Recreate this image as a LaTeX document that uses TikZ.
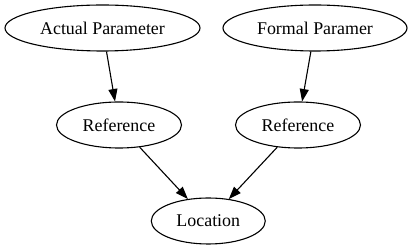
\documentclass[tikz,border=0pt]{standalone}
\usepackage{fontspec}
\setmainfont{Liberation Serif}
\usetikzlibrary{shapes.geometric,arrows.meta}
\begin{document}
\begin{tikzpicture}[x=1pt,y=1pt,
  vertex/.style={ellipse,draw,line width=1.1pt,inner sep=0pt,
    minimum height=46pt,font=\fontsize{17.9}{21}\selectfont},
  link/.style={line width=1.1pt,-{Triangle[length=12.5pt,width=9pt]}}]
\useasboundingbox (0,0) rectangle (413,251);
% upper row
\node[vertex,minimum width=195pt] (actual) at (102.5,223) {Actual Parameter};
\node[vertex,minimum width=184pt] (formal) at (315,223) {Formal Paramer};
% middle row
\node[vertex,minimum width=125pt] (refl) at (119,126) {Reference};
\node[vertex,minimum width=125pt] (refr) at (298,126) {Reference};
% bottom
\node[vertex,minimum width=114pt] (loc) at (208.3,30) {Location};
% edges
\draw[link] (actual) -- (refl);
\draw[link] (formal) -- (refr);
\draw[link] (refl) -- (loc);
\draw[link] (refr) -- (loc);
\end{tikzpicture}
\end{document}
